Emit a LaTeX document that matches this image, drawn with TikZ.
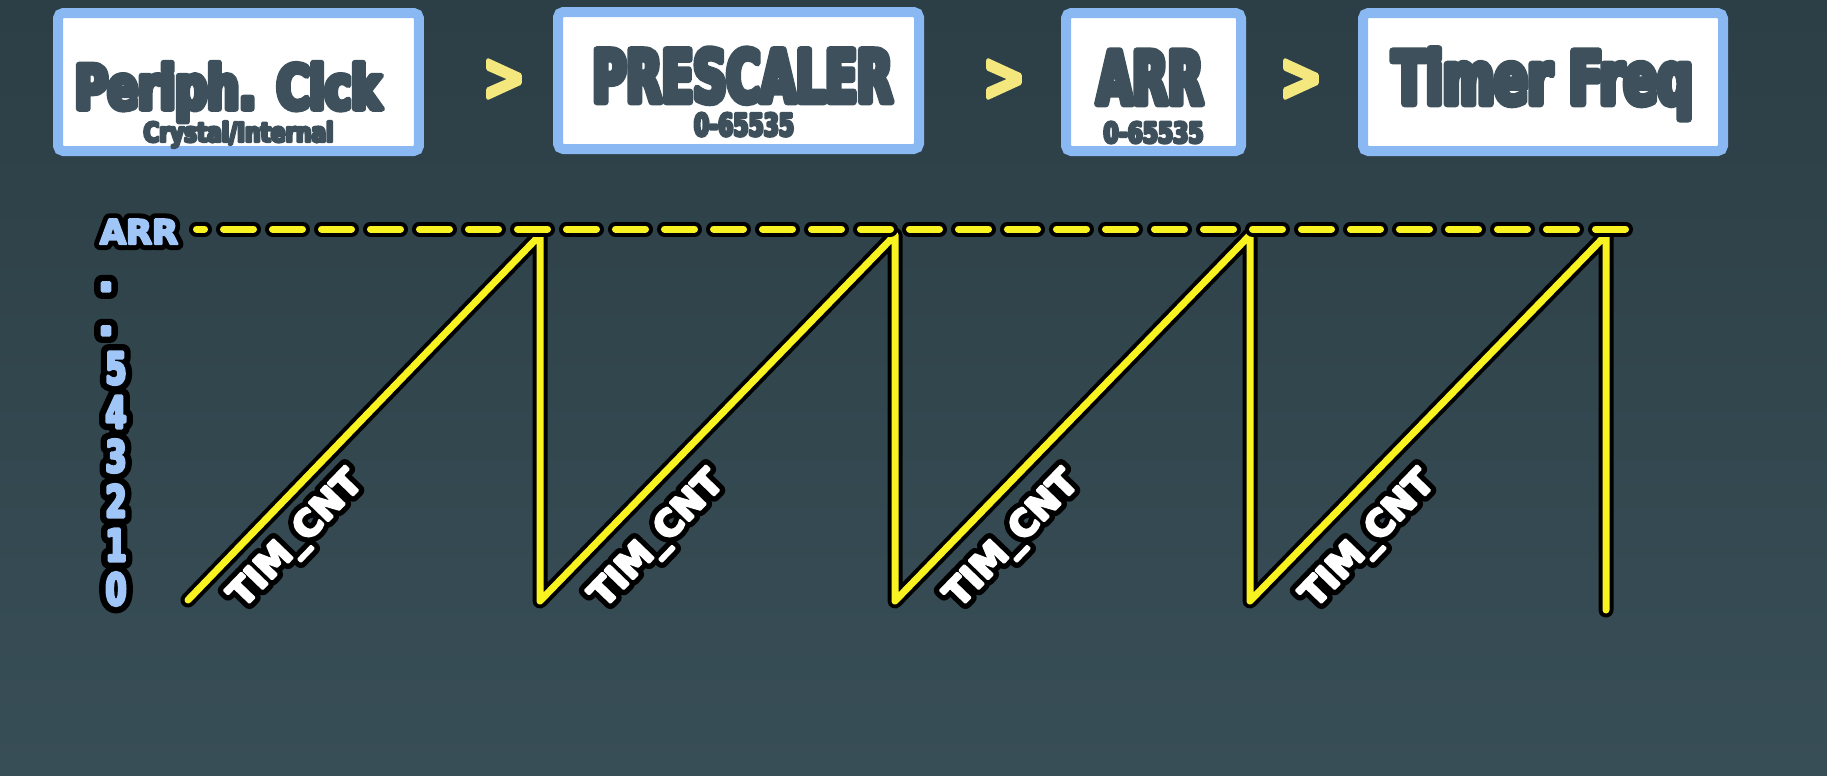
\documentclass[tikz,border=0pt]{standalone}
\usepackage{fontspec}
\setmainfont{DejaVu Sans}
\usepackage{graphicx}
\usetikzlibrary{positioning,calc}

% heavy narrow face for the chain, plain heavy face and a fat black rim for the plot labels
\newfontfamily\stagefont{DejaVu Sans}[FakeStretch=0.65, FakeBold=9]
\newfontfamily\lblfont{DejaVu Sans}[FakeBold=7]
\newfontfamily\rimfont{DejaVu Sans}[FakeBold=36]
\newfontfamily\condlbl{DejaVu Sans}[FakeStretch=0.68, FakeBold=7]
\newfontfamily\condrim{DejaVu Sans}[FakeStretch=0.68, FakeBold=36]

% squeeze a heading to a given width, keeping its height
\newcommand{\squeezed}[3]{{\stagefont\fontsize{#2}{#2}\selectfont\resizebox{#1}{\height}{#3}}}
% text with a black rim behind it
\newcommand{\rimmed}[3]{\rlap{\color{black}#1#3}#2#3}

\begin{document}
\begin{tikzpicture}[x=0.1mm, y=-0.1mm,
        every node/.style={inner sep=0pt, outer sep=0pt, font=\bfseries},
        stage/.style={draw=stageblue, fill=white, line width=1mm, rounded corners=1.5pt, minimum width=#1, minimum height=13.8mm},
        stagetext/.style={text=slate, anchor=base, line join=round},
        chevron/.style={text=chevyellow, line join=round},
        sawback/.style={line width=1.5mm, black, line join=round, line cap=round},
        sawfront/.style={line width=0.7mm, sawyellow, line join=round, line cap=round},
        dashback/.style={line width=1.5mm, black, line cap=round, dash pattern=on 3mm off 1.9mm, dash phase=2.2mm},
        dashfront/.style={line width=0.7mm, sawyellow, line cap=round, dash pattern=on 3mm off 1.9mm, dash phase=2.2mm},
        ticklbl/.style={text=tickblue, anchor=base, line join=round, font=\bfseries\fontsize{12.5}{12.5}\selectfont},
        cntlbl/.style={text=white, rotate=46, line join=round, font=\bfseries\fontsize{10.3}{10.3}\selectfont}]
        \definecolor{bgtop}{RGB}{44,62,70}
        \definecolor{bgmid}{RGB}{68,90,98}
        \definecolor{bgbottom}{RGB}{56,78,86}
        \definecolor{stageblue}{RGB}{138,184,242}
        \definecolor{slate}{RGB}{61,80,92}
        \definecolor{chevyellow}{RGB}{243,231,126}
        \definecolor{sawyellow}{RGB}{248,242,32}
        \definecolor{tickblue}{RGB}{159,198,247}

        \useasboundingbox (0,0) rectangle (1827,775);
        \shade[top color=bgtop, middle color=bgmid, bottom color=bgbottom] (0,0) rectangle (1827,775);

        % Counter ramp: four teeth up to ARR, then reset
        \foreach \layer in {sawback,sawfront}
            \draw[\layer] (188,600) \foreach \x in {540,895,1250} {-- (\x,235) -- (\x,601)} -- (1606,235) -- (1606,610);

        % ARR level
        \draw[dashback] (196.5,229) -- (1629.5,229);
        \draw[dashfront] (196.5,229) -- (1629.5,229);

        % Counter values on the left
        \node[ticklbl, font=\bfseries\fontsize{9.6}{9.6}\selectfont] (tickarr) at (139,244) {\rimmed{\rimfont}{\lblfont}{ARR}};
        \node[ticklbl] (dot1) at (106,291) {\rimmed{\rimfont}{\lblfont}{.}};
        \node[ticklbl] (dot2) at (106,335) {\rimmed{\rimfont}{\lblfont}{.}};
        \foreach \d/\y in {5/384,4/428,3/472,2/517,1/561,0/605}
            \node[ticklbl] (tick\d) at (116,\y) {\rimmed{\condrim}{\condlbl}{\d}};

        % TIM_CNT under each ramp
        \foreach \x [count=\i] in {297,658,1013,1369}
            \node[cntlbl] (cnt\i) at (\x,540) {\rimmed{\rimfont}{\lblfont}{TIM\_CNT}};

        % Clock chain along the top
        \node[stage=36.1mm] (clk) at (238.5,82) {};
        \node[stage=36.1mm, minimum height=13.7mm] (psc) at (738.5,80.5) {};
        \node[stage=17.5mm] (arr) at (1153.5,82) {};
        \node[stage=36mm] (freq) at (1543,82) {};

        \node[stagetext] (clktxt) at (228,109) {\squeezed{30.6mm}{17.4}{Periph. Clck}};
        \node[stagetext] (clksub) at (238.5,142) {\squeezed{19mm}{7.8}{Crystal/Internal}};
        \node[stagetext] (psctxt) at (742.5,102) {\squeezed{30mm}{20.5}{PRESCALER}};
        \node[stagetext] (pscsub) at (744,136) {\squeezed{10mm}{8.9}{0-65535}};
        \node[stagetext] (arrtxt) at (1150,104) {\squeezed{10.6mm}{20.8}{ARR}};
        \node[stagetext] (arrsub) at (1153.5,143) {\squeezed{10mm}{8.2}{0-65535}};
        \node[stagetext] (freqtxt) at (1542.5,104) {\squeezed{30mm}{20.8}{Timer Freq}};

        \node[chevron] (gt1) at (504,80) {\lblfont\resizebox{4.3mm}{3.9mm}{>}};
        \node[chevron] (gt2) at (1004,80) {\lblfont\resizebox{4.3mm}{3.9mm}{>}};
        \node[chevron] (gt3) at (1301,80) {\lblfont\resizebox{4.3mm}{3.9mm}{>}};
    \end{tikzpicture}
\end{document}
